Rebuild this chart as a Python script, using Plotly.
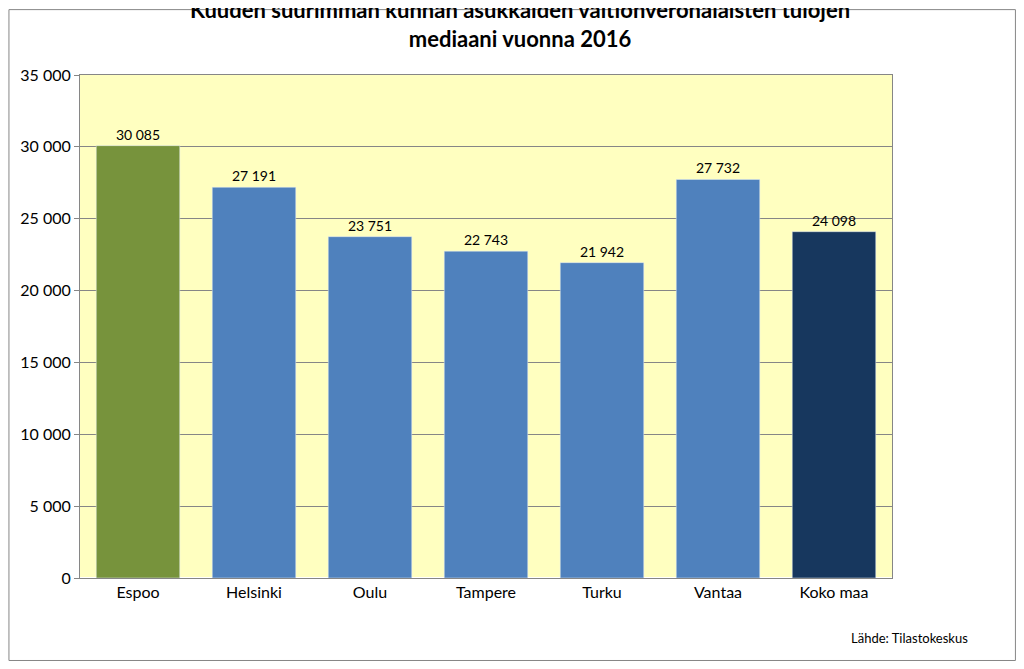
import plotly.graph_objects as go

categories = ["Espoo", "Helsinki", "Oulu", "Tampere", "Turku", "Vantaa", "Koko maa"]
values = [30085, 27191, 23751, 22743, 21942, 27732, 24098]
colors = ["#77933C", "#4F81BD", "#4F81BD", "#4F81BD", "#4F81BD", "#4F81BD", "#17375E"]
tick_vals = [0, 5000, 10000, 15000, 20000, 25000, 30000, 35000]
tick_text = ["0", "5 000", "10 000", "15 000", "20 000", "25 000", "30 000", "35 000"]

def fmt(v):
    return f"{v:,}".replace(",", " ")

fig = go.Figure(go.Bar(
    x=categories, y=values, marker_color=colors, width=0.72,
    text=[fmt(v) for v in values], textposition="outside",
    textfont=dict(size=14, color="black"), cliponaxis=False,
))
fig.update_layout(
    width=1024, height=669,
    margin=dict(l=72, r=140, t=67, b=99),
    paper_bgcolor="white", plot_bgcolor="#FFFFC0",
    font=dict(family="Lato, Carlito, sans-serif", color="black"),
    title=dict(text="<b>Kuuden suurimman kunnan asukkaiden valtionveronalaisten tulojen<br>mediaani vuonna 2016</b>",
               x=0.5, xanchor="center", y=0.985, yanchor="top", font=dict(size=22)),
    showlegend=False,
    xaxis=dict(tickfont=dict(size=16), showline=True, linecolor="#868686", mirror=True, ticks=""),
    yaxis=dict(range=[0, 35000], tickvals=tick_vals, ticktext=tick_text, tickfont=dict(size=16),
               showgrid=True, gridcolor="#868686", showline=True, linecolor="#868686", mirror=True,
               ticks="outside", ticklen=5, tickcolor="#868686"),
    shapes=[dict(type="rect", xref="paper", yref="paper", x0=-0.0875, x1=1.152, y0=-0.164, y1=1.13,
                 line=dict(color="#868686", width=1))],
    annotations=[dict(text="Lähde: Tilastokeskus", xref="paper", yref="paper", x=1.096, y=-0.119,
                      xanchor="right", yanchor="middle", showarrow=False, font=dict(size=13))],
)
fig.write_html("out.html")
